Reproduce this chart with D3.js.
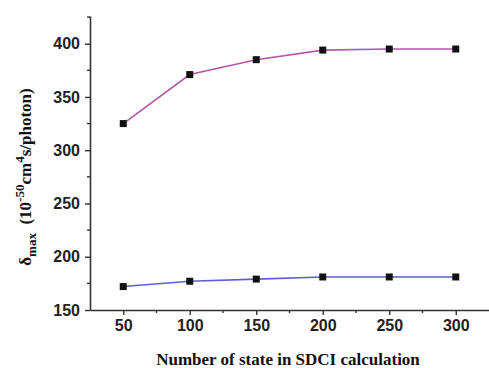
<!DOCTYPE html>
<html>
<head>
<meta charset="utf-8">
<script src="https://cdn.jsdelivr.net/npm/d3@7/dist/d3.min.js"></script>
<style>
  body { margin: 0; background: #fff; }
  svg { display: block; }
</style>
</head>
<body>
<svg id="chart" width="489" height="368"></svg>
<script>
// Data
const states = [50, 100, 150, 200, 250, 300];
const upperSeries = [325, 371, 385, 394, 395, 395];
const lowerSeries = [172, 177, 179, 181, 181, 181];
const xTicks = [50, 100, 150, 200, 250, 300];
const yTicks = [150, 200, 250, 300, 350, 400];

const svg = d3.select('#chart');

// Plot frame
const margins = { left: 90, top: 16, right: 0, bottom: 58 };
const width = 489, height = 368;

const x = d3.scaleLinear()
    .domain([25, 325])
    .range([margins.left, width - margins.right]);

const y = d3.scaleLinear()
    .domain([150, 426])
    .range([height - margins.bottom, margins.top]);

const axisColour = '#333';

// Axes
const xAxis = svg.append('g')
    .attr('transform', `translate(0, ${height - margins.bottom})`)
    .call(d3.axisBottom(x).tickValues(xTicks).tickSize(5).tickSizeOuter(0).tickPadding(5));

const yAxis = svg.append('g')
    .attr('transform', `translate(${margins.left}, 0)`)
    .call(d3.axisLeft(y).tickValues(yTicks).tickSize(5).tickSizeOuter(0).tickPadding(5));

[xAxis, yAxis].forEach((g) => {
    g.select('.domain').attr('stroke', axisColour).attr('stroke-width', 1.6);
    g.selectAll('.tick line').attr('stroke', axisColour).attr('stroke-width', 1.4);
    g.selectAll('.tick text')
        .attr('fill', '#222')
        .style('font-family', 'Arial, "Liberation Sans", sans-serif')
        .style('font-weight', 'bold')
        .style('font-size', '16px');
});

// Minor ticks
const xMinor = d3.range(75, 325, 50);
const yMinor = d3.range(175, 426, 50);

svg.append('g')
    .selectAll('line')
    .data(xMinor)
    .join('line')
    .attr('x1', (d) => x(d))
    .attr('x2', (d) => x(d))
    .attr('y1', height - margins.bottom)
    .attr('y2', height - margins.bottom + 3)
    .attr('stroke', axisColour)
    .attr('stroke-width', 1.4);

svg.append('g')
    .selectAll('line')
    .data(yMinor)
    .join('line')
    .attr('x1', margins.left)
    .attr('x2', margins.left - 3)
    .attr('y1', (d) => y(d))
    .attr('y2', (d) => y(d))
    .attr('stroke', axisColour)
    .attr('stroke-width', 1.4);

// Lines and markers
const series = [
    { name: 'upper', values: upperSeries, colour: '#b457a6' },
    { name: 'lower', values: lowerSeries, colour: '#5b5fd6' },
];

const line = d3.line()
    .x((d, i) => x(states[i]))
    .y((d) => y(d));

const plot = svg.append('g');

series.forEach((s) => {
    plot.append('path')
        .datum(s.values)
        .attr('fill', 'none')
        .attr('stroke', s.colour)
        .attr('stroke-width', 1.6)
        .attr('d', line);

    plot.selectAll(`rect.${s.name}`)
        .data(s.values)
        .join('rect')
        .attr('class', s.name)
        .attr('x', (d, i) => x(states[i]) - 3.5)
        .attr('y', (d) => y(d) - 3.5)
        .attr('width', 7)
        .attr('height', 7)
        .attr('fill', '#111');
});

// Axis titles
svg.append('text')
    .attr('x', 288)
    .attr('y', 365)
    .attr('text-anchor', 'middle')
    .style('font-family', '"Liberation Serif", "Times New Roman", serif')
    .style('font-weight', 'bold')
    .style('font-size', '17px')
    .attr('fill', '#111')
    .text('Number of state in SDCI calculation');

const yTitle = svg.append('text')
    .attr('transform', 'translate(31, 177) rotate(-90)')
    .attr('text-anchor', 'middle')
    .style('font-family', '"Liberation Serif", "Times New Roman", serif')
    .style('font-weight', 'bold')
    .style('font-size', '17px')
    .attr('fill', '#111');

yTitle.append('tspan').text('δ');
yTitle.append('tspan').attr('dy', 5).style('font-size', '13px').text('max');
yTitle.append('tspan').attr('dy', -5).text('\u00a0\u00a0(10');
yTitle.append('tspan').attr('dy', -7).style('font-size', '13px').text('-50');
yTitle.append('tspan').attr('dy', 7).text('cm');
yTitle.append('tspan').attr('dy', -7).style('font-size', '13px').text('4');
yTitle.append('tspan').attr('dy', 7).text('s/photon)');
</script>
</body>
</html>
